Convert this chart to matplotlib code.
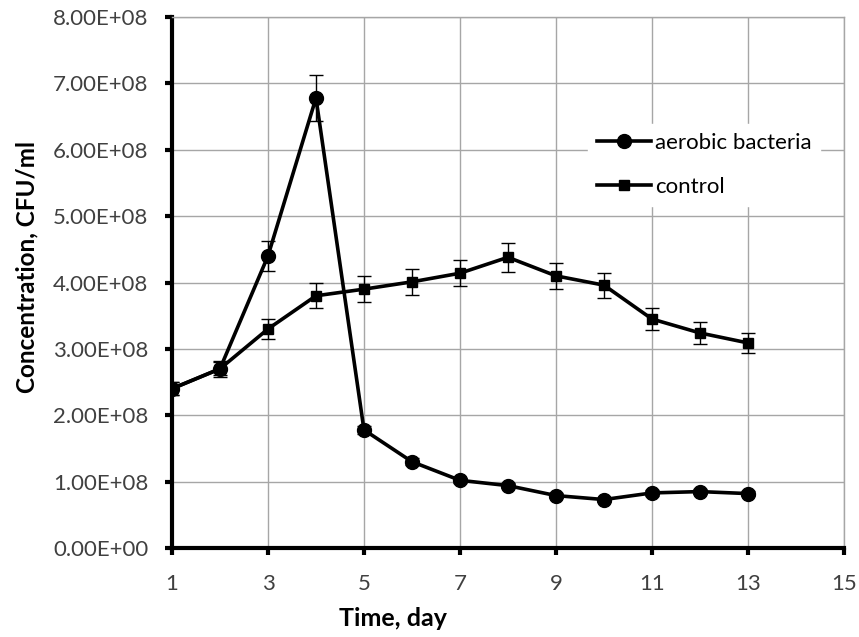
import matplotlib.pyplot as plt
from matplotlib.lines import Line2D
from matplotlib.ticker import FuncFormatter

days = [1, 2, 3, 4, 5, 6, 7, 8, 9, 10, 11, 12, 13]

aerobic = [2.40e8, 2.70e8, 4.40e8, 6.78e8, 1.78e8, 1.30e8, 1.02e8,
           0.94e8, 0.79e8, 0.73e8, 0.83e8, 0.85e8, 0.82e8]
aerobic_err = [0.10e8, 0.12e8, 0.23e8, 0.35e8, 0.06e8, 0.05e8, 0.04e8,
               0.04e8, 0.04e8, 0.03e8, 0.04e8, 0.04e8, 0.04e8]

control = [2.40e8, 2.70e8, 3.30e8, 3.80e8, 3.90e8, 4.01e8, 4.14e8,
           4.38e8, 4.10e8, 3.96e8, 3.45e8, 3.24e8, 3.09e8]
control_err = [0.10e8, 0.10e8, 0.15e8, 0.19e8, 0.20e8, 0.20e8, 0.20e8,
               0.22e8, 0.20e8, 0.19e8, 0.17e8, 0.16e8, 0.15e8]

fig = plt.figure(figsize=(8.59, 6.37), dpi=100)
ax = fig.add_axes([0.2002, 0.1397, 0.7823, 0.8336])

font = ['Lato', 'DejaVu Sans']

ax.errorbar(days, aerobic, yerr=aerobic_err, color='black', lw=2.6,
            marker='o', ms=10, ecolor='black', elinewidth=1, capsize=5,
            capthick=1, zorder=3)
ax.errorbar(days, control, yerr=control_err, color='black', lw=2.6,
            marker='s', ms=7.5, ecolor='black', elinewidth=1, capsize=5,
            capthick=1, zorder=3)

ax.set_xlim(1, 15)
ax.set_ylim(0, 8e8)
ax.set_xticks(range(1, 16, 2))
ax.set_yticks([i * 1e8 for i in range(9)])
ax.yaxis.set_major_formatter(FuncFormatter(lambda v, p: f"{v:.2E}"))
ax.grid(True, color='#a6a6a6', lw=1)
ax.set_axisbelow(True)

for s in ['top', 'right']:
    ax.spines[s].set_color('#a6a6a6')
    ax.spines[s].set_linewidth(1)
for s in ['left', 'bottom']:
    ax.spines[s].set_color('black')
    ax.spines[s].set_linewidth(3)

ax.tick_params(axis='both', direction='out', length=5, width=3,
               labelsize=16, labelcolor='#404040')
ax.tick_params(axis='y', pad=12)
ax.tick_params(axis='x', pad=14)
for lab in ax.get_xticklabels() + ax.get_yticklabels():
    lab.set_family(font)

# Excel puts the axis titles off-centre, so place them by hand
ax.set_xlabel('Time, day', fontsize=18, fontweight='bold', family=font)
ax.xaxis.set_label_coords(0.329, -0.112)
ax.set_ylabel('Concentration, CFU/ml', fontsize=17.5, fontweight='bold',
              family=font)
ax.yaxis.set_label_coords(-0.199, 0.53)

handles = [
    Line2D([], [], color='black', lw=2.6, marker='o', ms=10),
    Line2D([], [], color='black', lw=2.6, marker='s', ms=7.5),
]
ax.legend(handles, ['aerobic bacteria', 'control'], loc='upper left',
          bbox_to_anchor=(0.603, 0.82), frameon=True, edgecolor='white',
          facecolor='white', framealpha=1, fancybox=False,
          handlelength=2.4, handletextpad=0.2, labelspacing=1.1,
          prop={'family': font, 'size': 16})

fig.savefig('out.png', dpi=100)
